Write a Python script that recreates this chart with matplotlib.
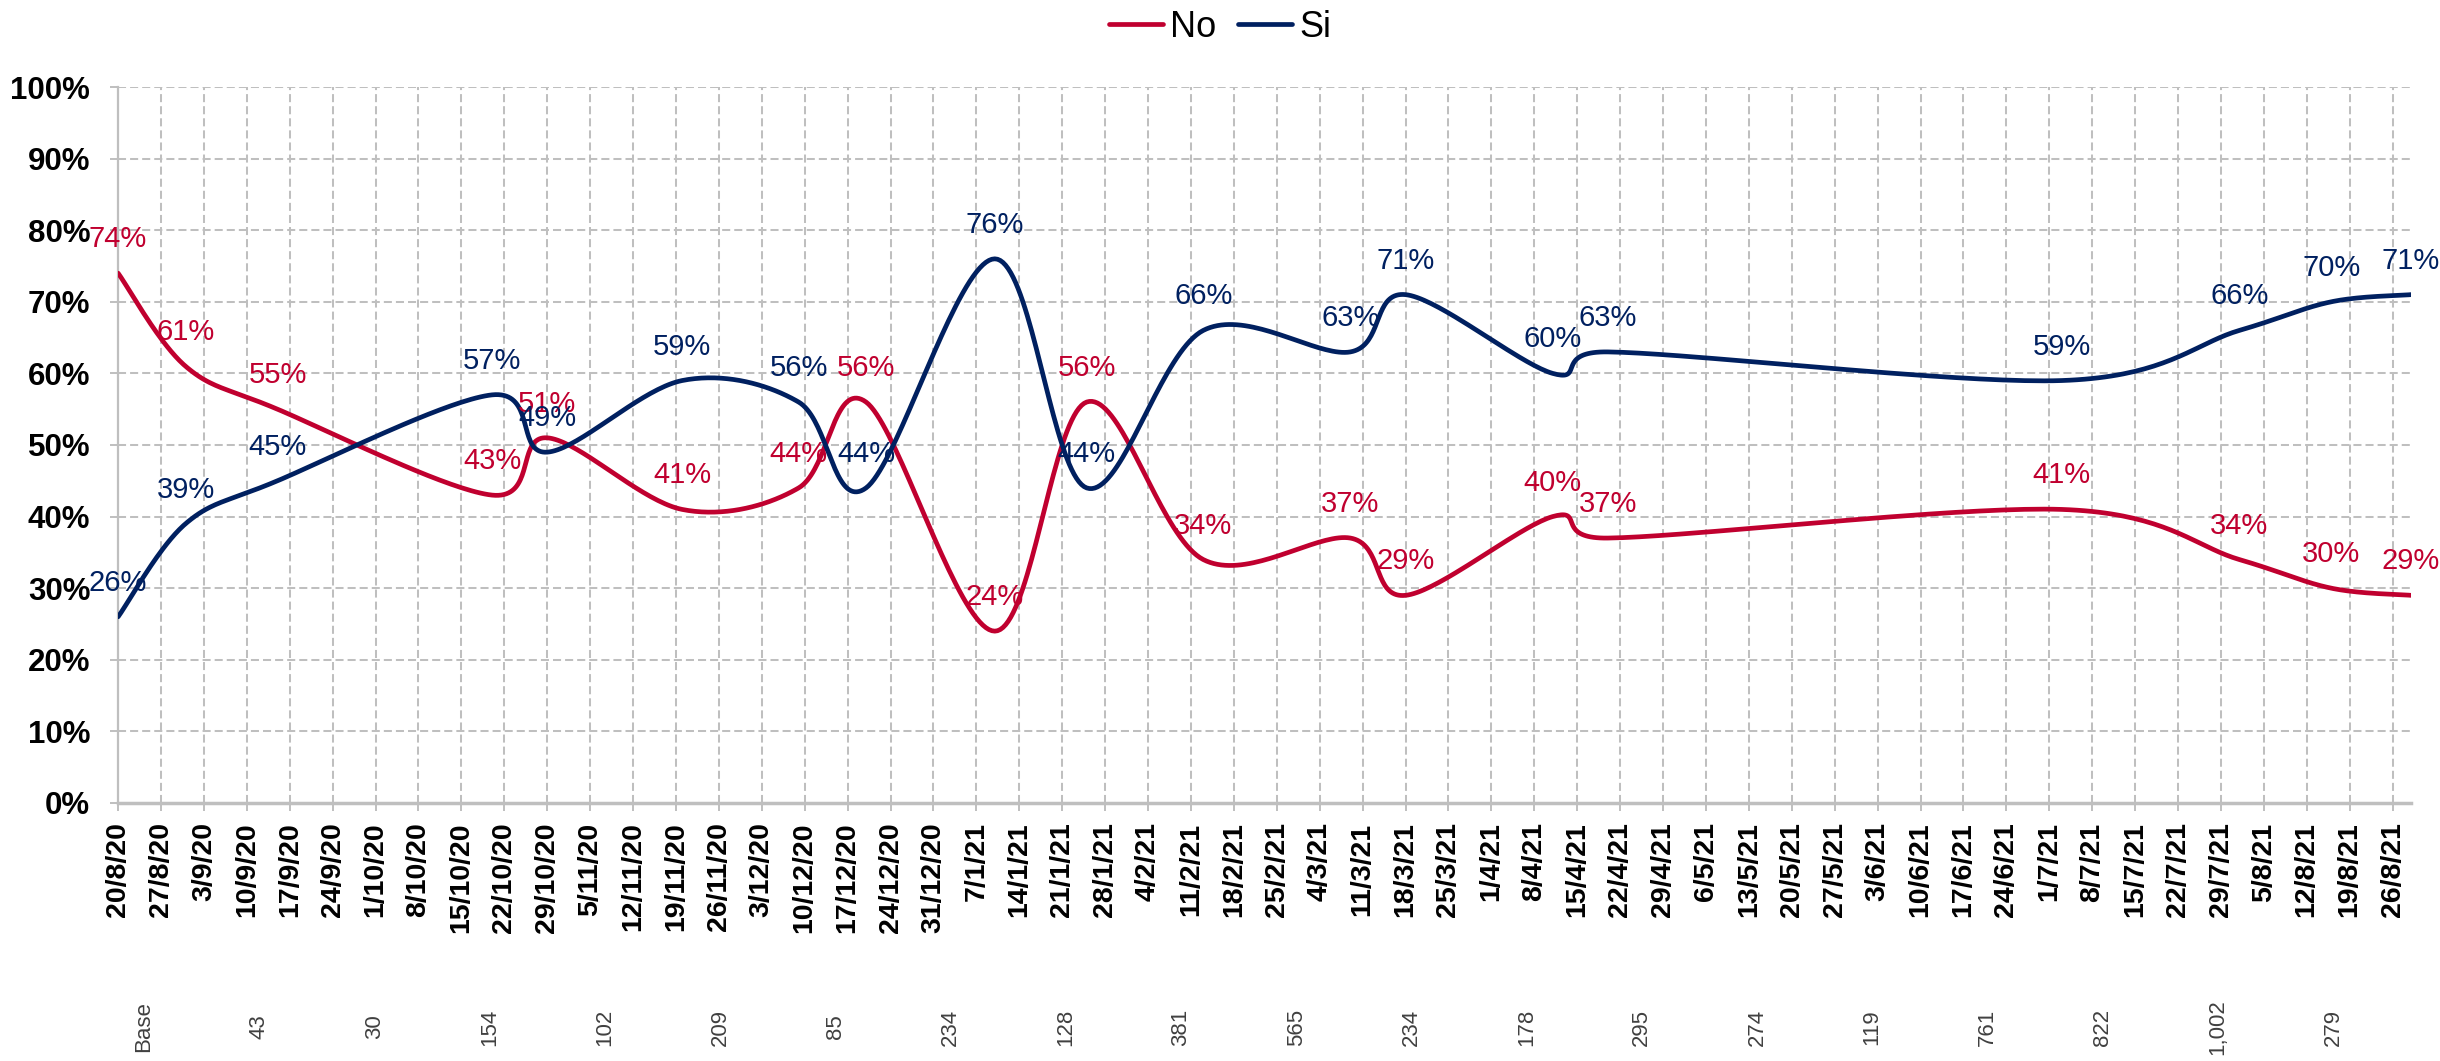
import numpy as np
import pandas as pd
import matplotlib
matplotlib.use("Agg")
import matplotlib.pyplot as plt

plt.rcParams['font.family'] = ['Liberation Sans', 'DejaVu Sans']

# ── Data ──────────────────────────────────────────────────────────────────
survey_dates = ['2020-08-20', '2020-08-31', '2020-09-15', '2020-10-20', '2020-10-29',
                '2020-11-20', '2020-12-09', '2020-12-20', '2021-01-10', '2021-01-25',
                '2021-02-13', '2021-03-09', '2021-03-18', '2021-04-11', '2021-04-20',
                '2021-07-03', '2021-08-01', '2021-08-16', '2021-08-29']
no_vals = [74, 61, 55, 43, 51, 41, 44, 56, 24, 56, 34, 37, 29, 40, 37, 41, 34, 30, 29]
si_vals = [26, 39, 45, 57, 49, 59, 56, 44, 76, 44, 66, 63, 71, 60, 63, 59, 66, 70, 71]

base_labels = ['Base', '43', '30', '154', '102', '209', '85', '234', '128', '381', '565',
               '234', '178', '295', '274', '119', '761', '822', '1,002', '279']

week_labels = ['20/8/20', '27/8/20', '3/9/20', '10/9/20', '17/9/20', '24/9/20', '1/10/20',
               '8/10/20', '15/10/20', '22/10/20', '29/10/20', '5/11/20', '12/11/20',
               '19/11/20', '26/11/20', '3/12/20', '10/12/20', '17/12/20', '24/12/20',
               '31/12/20', '7/1/21', '14/1/21', '21/1/21', '28/1/21', '4/2/21', '11/2/21',
               '18/2/21', '25/2/21', '4/3/21', '11/3/21', '18/3/21', '25/3/21', '1/4/21',
               '8/4/21', '15/4/21', '22/4/21', '29/4/21', '6/5/21', '13/5/21', '20/5/21',
               '27/5/21', '3/6/21', '10/6/21', '17/6/21', '24/6/21', '1/7/21', '8/7/21',
               '15/7/21', '22/7/21', '29/7/21', '5/8/21', '12/8/21', '19/8/21', '26/8/21']

RED = '#C0002F'
NAVY = '#002060'
GRID = '#BFBFBF'

start = pd.Timestamp(survey_dates[0])
x_days = np.array([(pd.Timestamp(d) - start).days for d in survey_dates], dtype=float)
tick_pos = np.arange(len(week_labels)) * 7


def smooth(x, y, n=40):
    """Excel-like smoothed line: Catmull-Rom as cubic Bezier segments,
    control points kept inside each segment's x-range so no loops appear."""
    P = np.column_stack([x, y]).astype(float)
    P = np.vstack([P[0], P, P[-1]])
    t = np.linspace(0, 1, n)[:, None]
    out = []
    for i in range(1, len(P) - 2):
        p0, p1, p2, p3 = P[i - 1], P[i], P[i + 1], P[i + 2]
        d1 = (p2 - p0) / 6
        d2 = (p3 - p1) / 6
        span = p2[0] - p1[0]
        if d1[0] > span:
            d1 = d1 * span / d1[0]
        if d2[0] > span:
            d2 = d2 * span / d2[0]
        c1 = p1 + d1
        c2 = p2 - d2
        seg = ((1 - t) ** 3) * p1 + 3 * (1 - t) ** 2 * t * c1 \
            + 3 * (1 - t) * t ** 2 * c2 + t ** 3 * p2
        out.append(seg if i == 1 else seg[1:])
    S = np.vstack(out)
    return S[:, 0], S[:, 1]


# ── Plot ──────────────────────────────────────────────────────────────────
fig = plt.figure(figsize=(24.4, 10.61), dpi=100)
ax = fig.add_axes([0.0484, 0.2432, 0.9397, 0.6748])

for vals, color, name in [(no_vals, RED, 'No'), (si_vals, NAVY, 'Si')]:
    sx, sy = smooth(x_days, vals)
    ax.plot(sx, sy, color=color, linewidth=3.4, label=name,
            solid_capstyle='round', zorder=3)
    for xd, v in zip(x_days, vals):
        ax.annotate(f'{v}%', (xd, v), xytext=(0, 24.5), textcoords='offset points',
                    ha='center', va='center', color=color, fontsize=21, zorder=4)

ax.set_xlim(0, x_days[-1])
ax.set_ylim(0, 100)
ax.set_yticks(np.arange(0, 101, 10))
ax.set_yticklabels([f'{v}%' for v in range(0, 101, 10)], fontsize=22.5, fontweight='bold')
ax.set_xticks(tick_pos)
ax.set_xticklabels(week_labels, rotation=90, fontsize=20.5, fontweight='bold')

ax.grid(True, color=GRID, linestyle=(0, (4, 2)), linewidth=1.45, zorder=0)
ax.tick_params(axis='both', color=GRID, width=1.4, length=6)
ax.tick_params(axis='y', pad=14)
ax.tick_params(axis='x', pad=8)
for side in ['top', 'right']:
    ax.spines[side].set_visible(False)
ax.spines['left'].set_color(GRID)
ax.spines['left'].set_linewidth(1.6)
ax.spines['bottom'].set_color(GRID)
ax.spines['bottom'].set_linewidth(2.5)

ax.legend(loc='center', bbox_to_anchor=(0.5, 0.9745), bbox_transform=fig.transFigure,
          ncol=2, frameon=False, fontsize=26, handlelength=1.5,
          handletextpad=0.2, columnspacing=0.6)

# sample sizes row under the date axis
for xf, lab in zip(np.linspace(144 / 2440, 2333 / 2440, len(base_labels)), base_labels):
    fig.text(xf, 0.032, lab, rotation=90, ha='center', va='center',
             fontsize=16, color='#404040')

plt.savefig('out.png', dpi=100)
